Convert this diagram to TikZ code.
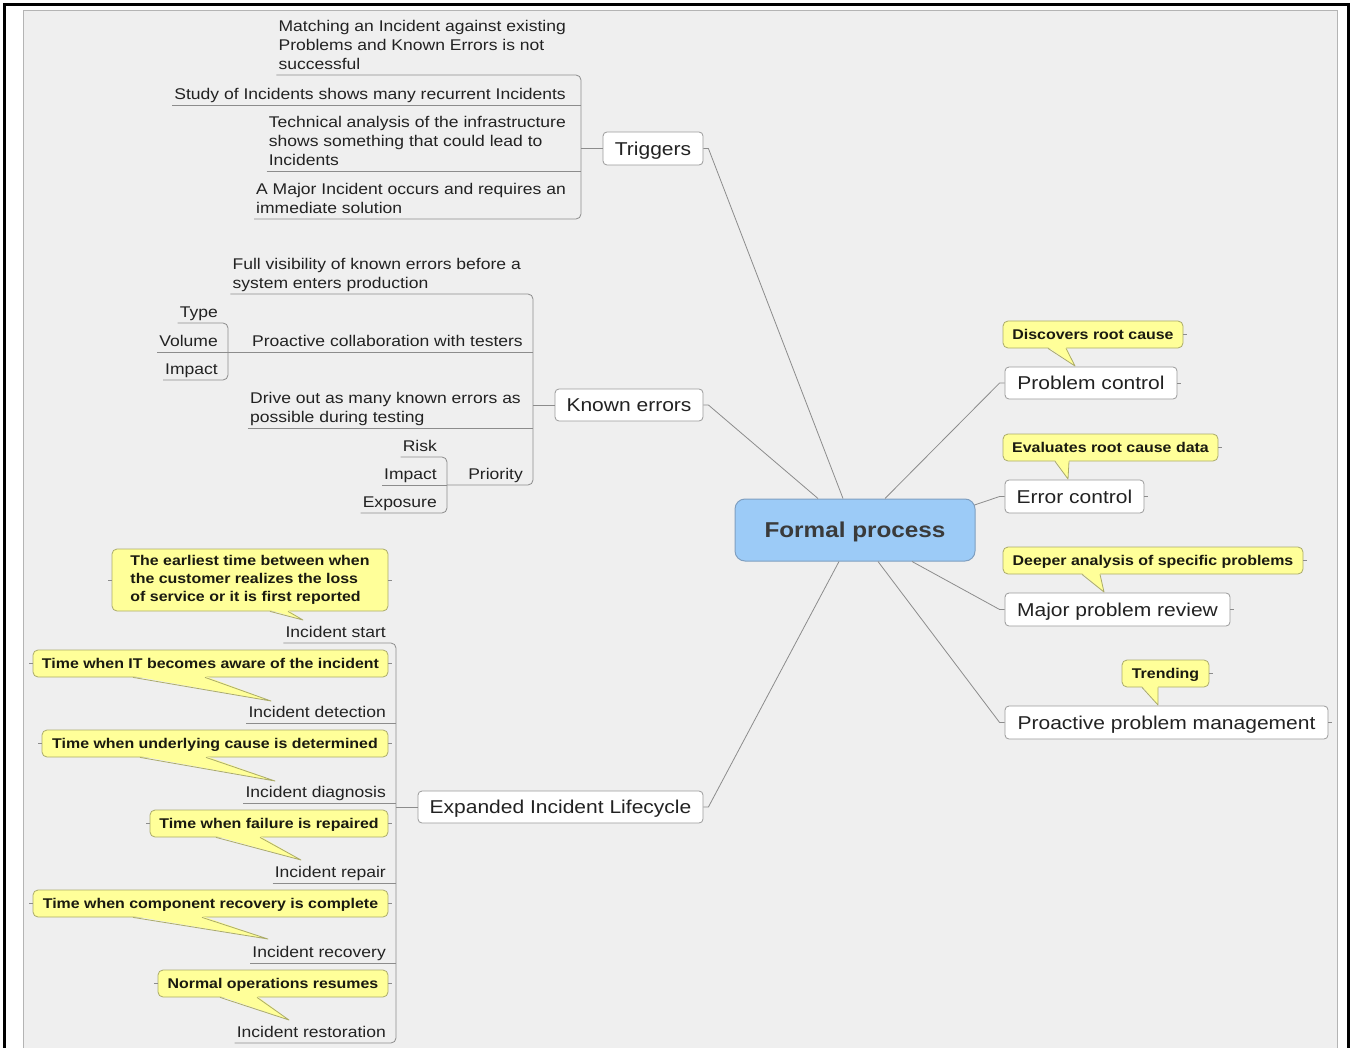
\documentclass[tikz,border=0pt]{standalone}
\usepackage{fontspec}
\setmainfont{Liberation Sans}[FakeStretch=1.13]
\usetikzlibrary{calc}

\definecolor{panelfill}{HTML}{EFEFEF}
\definecolor{panelline}{HTML}{B4B4B4}
\definecolor{linegray}{HTML}{8C8C8C}
\definecolor{boxgray}{HTML}{9A9A9A}
\definecolor{ink}{HTML}{222222}
\definecolor{fpfill}{HTML}{9CCBF7}
\definecolor{fpline}{HTML}{7F9FC0}
\definecolor{fpink}{HTML}{3A3A3A}
\definecolor{notefill}{HTML}{FFFF99}
\definecolor{noteline}{HTML}{ABAB6A}
\definecolor{noteink}{HTML}{1A1A10}

\newcommand{\leaffont}{\fontsize{15.5}{19}\selectfont}
\newcommand{\boxfont}{\fontsize{18.6}{22}\selectfont}
\newcommand{\notefont}{\fontsize{14.1}{18}\selectfont\bfseries}
\newcommand{\fpfont}{\fontsize{21.5}{25}\selectfont\bfseries}

% callout tail: node, base x1, base x2, tip
\newcommand{\calltail}[4]{%
  \fill[notefill] ($(#2,0 |- #1.south)+(0,-1.4)$) -- (#4) -- ($(#3,0 |- #1.south)+(0,-1.4)$) -- cycle;
  \draw[noteline, line width=0.8pt, line join=round] (#2,0 |- #1.south) -- (#4) -- (#3,0 |- #1.south);
}

\begin{document}
\begin{tikzpicture}[x=1pt, y=-1pt,
  conn/.style={draw=linegray, line width=0.8pt},
  topic/.style={draw=boxgray, fill=white, rounded corners=4pt, line width=0.8pt,
    font=\boxfont, text=ink, inner sep=0pt, text height=13.4pt, text depth=0pt},
  leaf/.style={font=\leaffont, text=ink, align=left, inner xsep=2pt, inner ysep=0pt},
  note/.style={draw=noteline, fill=notefill, rounded corners=5pt, line width=0.8pt,
    font=\notefont, text=noteink, align=left, inner sep=0pt},
  note1/.style={note, text height=10.1pt, text depth=0pt},
]
\useasboundingbox (0,0) rectangle (1351,1048);
\fill[white] (0,0) rectangle (1351,1048);

% window frame and canvas
\draw[line width=3pt] (4.5,1048) -- (4.5,5) -- (1348.5,5) -- (1348.5,1048);
\filldraw[fill=panelfill, draw=panelline, line width=0.8pt] (23,1049) -- (23,10.5) -- (1337,10.5) -- (1337,1049);

% central topic
\node[draw=fpline, fill=fpfill, rounded corners=10pt, line width=1pt,
  minimum width=240pt, minimum height=62pt, font=\fpfont, text=fpink,
  text height=15.4pt, text depth=0pt] (fp) at (855,530) {Formal process};

% main topics
\node[topic, minimum width=100pt, minimum height=33pt] (trig) at (653,148.5) {Triggers};
\node[topic, minimum width=148pt, minimum height=32pt] (known) at (629,405) {Known errors};
\node[topic, minimum width=285pt, minimum height=32pt] (eil) at (560.5,807) {Expanded Incident Lifecycle};
\node[topic, minimum width=172pt, minimum height=32pt] (pc) at (1091,383) {Problem control};
\node[topic, minimum width=139pt, minimum height=33pt] (ec) at (1074.5,496.5) {Error control};
\node[topic, minimum width=225pt, minimum height=33pt] (mpr) at (1117.5,609.5) {Major problem review};
\node[topic, minimum width=323pt, minimum height=33pt] (ppm) at (1166.5,722.5) {Proactive problem management};

% branches from the central topic
\draw[conn] ($(fp.north)+(-12,0)$) -- ($(trig.east)+(5,0)$) -- (trig.east);
\draw[conn] ($(fp.north)+(-37,0)$) -- ($(known.east)+(5,0)$) -- (known.east);
\draw[conn] ($(fp.south)+(-16,0)$) -- ($(eil.east)+(5,0)$) -- (eil.east);
\draw[conn] ($(fp.north)+(30,0)$) -- ($(pc.west)+(-5,0)$) -- (pc.west);
\draw[conn] ($(fp.east)+(-1,-25)$) -- ($(ec.west)+(-5,0)$) -- (ec.west);
\draw[conn] ($(fp.south)+(57,0)$) -- ($(mpr.west)+(-5,0)$) -- (mpr.west);
\draw[conn] ($(fp.south)+(23,0)$) -- ($(ppm.west)+(-5,0)$) -- (ppm.west);
\foreach \n in {pc,ec,mpr,ppm} \draw[conn] (\n.east) -- ++(4,0);

% Triggers subtopics
\coordinate (tsp) at (581,148.5);
\node[leaf, anchor=south east] (t1) at (568,75) {Matching an Incident against existing\\Problems and Known Errors is not\\successful\strut};
\node[leaf, anchor=south east] (t2) at (568,105) {Study of Incidents shows many recurrent Incidents\strut};
\node[leaf, anchor=south east] (t3) at (568,171) {Technical analysis of the infrastructure\\shows something that could lead to\\Incidents\strut};
\node[leaf, anchor=south east] (t4) at (568,219) {A Major Incident occurs and requires an\\immediate solution\strut};
\draw[conn, rounded corners=5pt] (t1.south west) -- (t1.south west -| tsp) -- (t4.south west -| tsp) -- (t4.south west);
\draw[conn] (t2.south west) -- (t2.south west -| tsp);
\draw[conn] (t3.south west) -- (t3.south west -| tsp);
\draw[conn] (tsp) -- (trig.west);

% Known errors subtopics
\coordinate (ksp) at (533,405);
\coordinate (vsp) at (228,352);
\coordinate (psp) at (447,485);
\node[leaf, anchor=south east] (k1) at (523,294) {Full visibility of known errors before a\\system enters production\strut};
\node[leaf, anchor=south east] (k2) at (525,352) {Proactive collaboration with testers\strut};
\node[leaf, anchor=south east] (k3) at (523,428) {Drive out as many known errors as\\possible during testing\strut};
\node[leaf, anchor=south east] (k4) at (525,485) {Priority\strut};
\draw[conn, rounded corners=5pt] (k1.south west) -- (k1.south west -| ksp) -- (k4.south -| ksp) -- (psp);
\draw[conn] (k3.south west) -- (k3.south west -| ksp);
\draw[conn] (ksp) -- (known.west);

\node[leaf, anchor=south east] (v1) at (220,323) {Type\strut};
\node[leaf, anchor=south east] (v2) at (220,352) {Volume\strut};
\node[leaf, anchor=south east] (v3) at (220,380) {Impact\strut};
\draw[conn, rounded corners=5pt] (v1.south west) -- (v1.south west -| vsp) -- (v3.south west -| vsp) -- (v3.south west);
\draw[conn] (v2.south west) -- (k2.south -| ksp);

\node[leaf, anchor=south east] (p1) at (439,457) {Risk\strut};
\node[leaf, anchor=south east] (p2) at (439,485) {Impact\strut};
\node[leaf, anchor=south east] (p3) at (439,513) {Exposure\strut};
\draw[conn, rounded corners=5pt] (p1.south west) -- (p1.south west -| psp) -- (p3.south west -| psp) -- (p3.south west);
\draw[conn] (p2.south west) -- (psp);

% Expanded Incident Lifecycle subtopics
\coordinate (esp) at (396,807);
\node[leaf, anchor=south east] (e1) at (388,643) {Incident start\strut};
\node[leaf, anchor=south east] (e2) at (388,723) {Incident detection\strut};
\node[leaf, anchor=south east] (e3) at (388,803) {Incident diagnosis\strut};
\node[leaf, anchor=south east] (e4) at (388,883) {Incident repair\strut};
\node[leaf, anchor=south east] (e5) at (388,963) {Incident recovery\strut};
\node[leaf, anchor=south east] (e6) at (388,1043) {Incident restoration\strut};
\draw[conn, rounded corners=5pt] (e1.south west) -- (e1.south west -| esp) -- (e6.south west -| esp) -- (e6.south west);
\foreach \n in {e2,e3,e4,e5} \draw[conn] (\n.south west) -- (\n.south west -| esp);
\draw[conn] (esp) -- (eil.west);

% callouts
\node[note, minimum width=276pt, minimum height=62pt] (c1) at (250,580) {The earliest time between when\\the customer realizes the loss\\of service or it is first reported};
\node[note1, minimum width=355pt, minimum height=27pt] (c2) at (210.5,663.5) {Time when IT becomes aware of the incident};
\node[note1, minimum width=346pt, minimum height=27pt] (c3) at (215,743.5) {Time when underlying cause is determined};
\node[note1, minimum width=238pt, minimum height=27pt] (c4) at (269,823.5) {Time when failure is repaired};
\node[note1, minimum width=355pt, minimum height=27pt] (c5) at (210.5,903.5) {Time when component recovery is complete};
\node[note1, minimum width=230pt, minimum height=27pt] (c6) at (273,983.5) {Normal operations resumes};
\node[note1, minimum width=180pt, minimum height=27pt] (r1) at (1093,334.5) {Discovers root cause};
\node[note1, minimum width=215pt, minimum height=27pt] (r2) at (1110.5,447.5) {Evaluates root cause data};
\node[note1, minimum width=300pt, minimum height=27pt] (r3) at (1153,560.5) {Deeper analysis of specific problems};
\node[note1, minimum width=87pt, minimum height=27pt] (r4) at (1165.5,673.5) {Trending};

\coordinate (tc1) at (303,620);
\coordinate (tc2) at (271,701);
\coordinate (tc3) at (275,781);
\coordinate (tc4) at (301,860);
\coordinate (tc5) at (268,939);
\coordinate (tc6) at (289,1020);
\coordinate (tr1) at (1075,366);
\coordinate (tr2) at (1068,479);
\coordinate (tr3) at (1104,592);
\coordinate (tr4) at (1158,705);

\calltail{c1}{270}{288}{tc1}
\calltail{c2}{133}{205}{tc2}
\calltail{c3}{140}{206}{tc3}
\calltail{c4}{216}{260}{tc4}
\calltail{c5}{133}{202}{tc5}
\calltail{c6}{220}{257}{tc6}
\calltail{r1}{1048}{1066}{tr1}
\calltail{r2}{1055}{1069}{tr2}
\calltail{r3}{1082}{1100}{tr3}
\calltail{r4}{1142}{1158}{tr4}

\foreach \n in {c1,c2,c3,c4,c5,c6} {
  \draw[conn] (\n.west) -- ++(-4,0);
  \draw[conn] (\n.east) -- ++(4,0);
}
\foreach \n in {r1,r2,r3,r4} \draw[conn] (\n.east) -- ++(4,0);

\end{tikzpicture}
\end{document}
